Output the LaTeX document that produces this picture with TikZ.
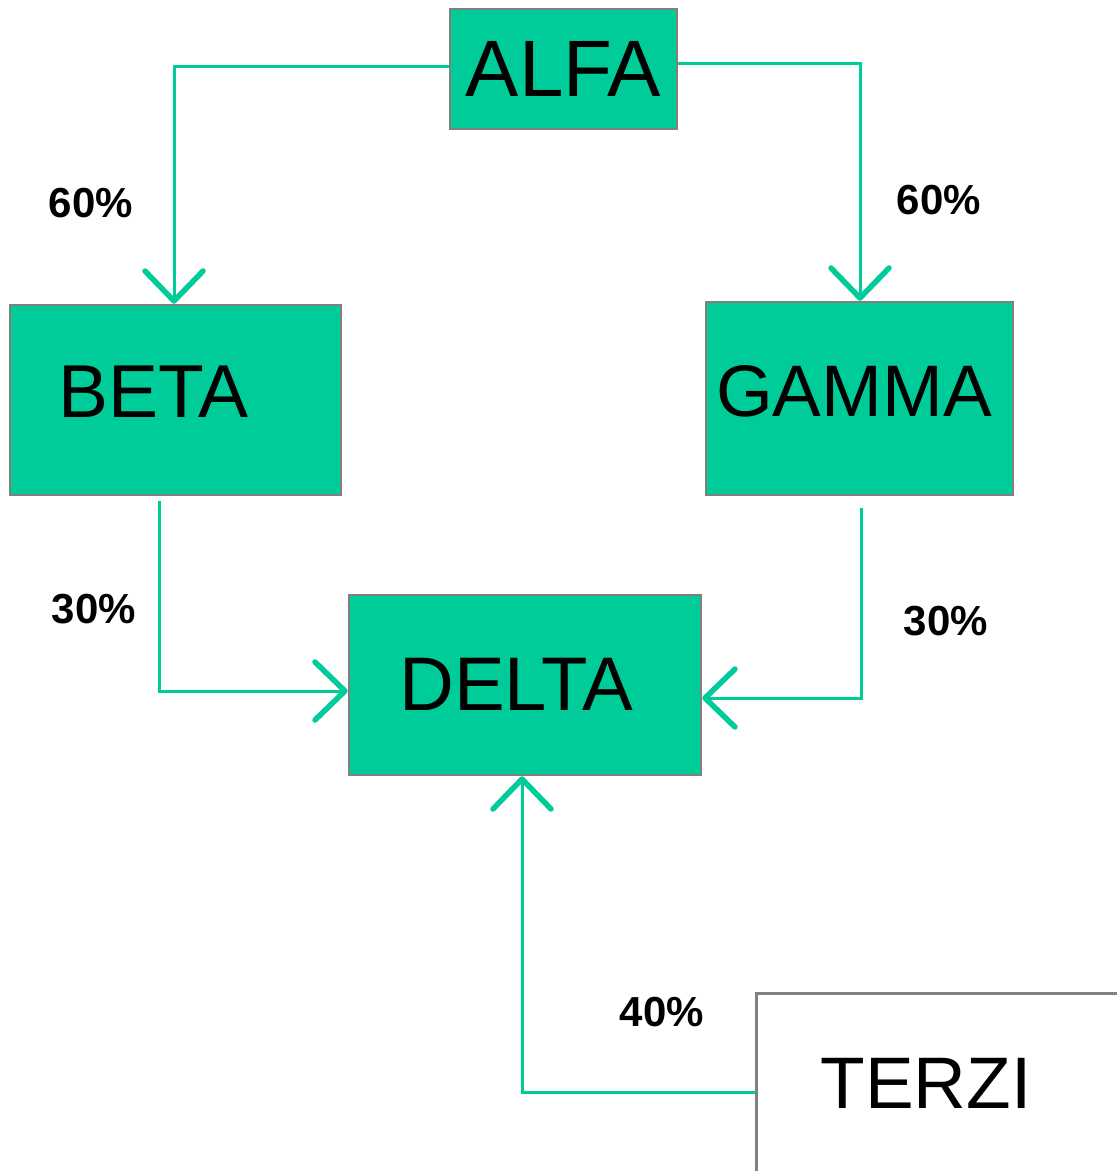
\documentclass[tikz,border=0pt]{standalone}
\usepackage{fontspec}
\setmainfont{Liberation Sans}
\usetikzlibrary{arrows.meta}
\definecolor{boxgreen}{HTML}{00CC99}
\definecolor{linegreen}{HTML}{00CC99}
\definecolor{bordergray}{HTML}{808080}
\tikzset{
  box/.style={draw=bordergray, line width=2.5pt, fill=boxgreen, rectangle, inner sep=0pt},
  whitebox/.style={draw=bordergray, line width=2.5pt, fill=white, rectangle, inner sep=0pt},
  boxtext/.style={anchor=base, inner sep=0pt, font=\fontsize{74}{80}\selectfont},
  pct/.style={anchor=base, inner sep=0pt, font=\fontsize{42}{48}\selectfont\bfseries},
  conn/.style={draw=linegreen, line width=3pt,
    -{Straight Barb[length=30pt,width=58pt,line width=5.5pt,round]}},
}
\begin{document}
\begin{tikzpicture}[x=1pt,y=-1pt]
\clip (0,0) rectangle (1117,1171);
\fill[white] (0,0) rectangle (1117,1171);

% boxes
\node[box, minimum width=227pt, minimum height=120pt] (ALFA) at (563.5,69) {};
\node[box, minimum width=331pt, minimum height=190pt] (BETA) at (175.5,400) {};
\node[box, minimum width=307pt, minimum height=193pt] (GAMMA) at (859.5,398.5) {};
\node[box, minimum width=352pt, minimum height=180pt] (DELTA) at (525,685) {};
\node[whitebox, anchor=north west, minimum width=420pt, minimum height=198pt] (TERZI) at (755,992) {};

% box texts
\node[boxtext, font=\fontsize{80}{88}\selectfont] (ALFAt) at (563.5,96) {ALFA};
\node[boxtext, font=\fontsize{75}{80}\selectfont] (BETAt) at (153.5,417) {BETA};
\node[boxtext, font=\fontsize{73}{80}\selectfont] (GAMMAt) at (854,416) {GAMMA};
\node[boxtext, font=\fontsize{76}{80}\selectfont] (DELTAt) at (516,710) {DELTA};
\node[boxtext, font=\fontsize{73}{80}\selectfont] (TERZIt) at (926,1108) {TERZI};

% connectors
\draw[conn] ([yshift=3pt]ALFA.west) -| ([xshift=-1.5pt]BETA.north);
\draw[conn] ([yshift=6pt]ALFA.east) -| ([xshift=0.5pt]GAMMA.north);
\draw[conn] ([xshift=-16.5pt,yshift=-5pt]BETA.south) |- ([yshift=-6pt]DELTA.west);
\draw[conn] ([xshift=1.5pt,yshift=-12pt]GAMMA.south) |- ([yshift=-13pt]DELTA.east);
\draw[conn] (TERZI.west) -| ([xshift=-3pt]DELTA.south);

% percentages
\node[pct] (p1) at (91,217) {60\%};
\node[pct] (p2) at (939,214) {60\%};
\node[pct] (p3) at (94,623) {30\%};
\node[pct] (p4) at (946,635) {30\%};
\node[pct] (p5) at (662,1026) {40\%};
\end{tikzpicture}
\end{document}
